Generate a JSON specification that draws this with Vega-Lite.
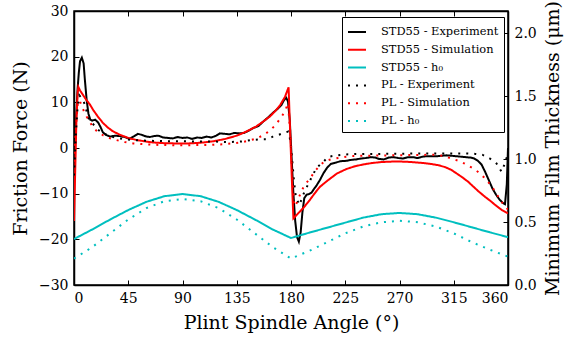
{
  "$schema": "https://vega.github.io/schema/vega-lite/v6.json",
  "width": 434,
  "height": 274,
  "autosize": "none",
  "padding": {"left": 74, "top": 11, "right": 57, "bottom": 55},
  "background": "white",
  "config": {
    "font": "DejaVu Serif",
    "view": {"stroke": "black", "strokeWidth": 1.5},
    "axis": {
      "domainColor": "black", "domainWidth": 1.5,
      "tickColor": "black", "tickSize": -5, "tickWidth": 1,
      "labelColor": "black", "labelFont": "DejaVu Serif", "labelFontSize": 14,
      "titleFont": "DejaVu Serif", "titleFontSize": 19, "titleFontWeight": "normal", "titleColor": "black",
      "grid": false, "labelPadding": 11
    },
    "legend": {
      "labelFont": "DejaVu Serif", "labelFontSize": 11.4, "labelColor": "black",
      "symbolType": "stroke", "symbolSize": 324, "symbolStrokeWidth": 2,
      "strokeColor": "black", "fillColor": "white", "padding": 5, "rowPadding": 1.8,
      "labelOffset": 14, "cornerRadius": 0
    }
  },
  "datasets": {
    "friction": [
      {"angle":0,"value":-8,"series":"STD55 - Experiment"},{"angle":1,"value":2,"series":"STD55 - Experiment"},{"angle":2,"value":8,"series":"STD55 - Experiment"},{"angle":3,"value":13,"series":"STD55 - Experiment"},{"angle":4,"value":16.5,"series":"STD55 - Experiment"},{"angle":5,"value":19,"series":"STD55 - Experiment"},{"angle":6.5,"value":19.8,"series":"STD55 - Experiment"},{"angle":8,"value":18.5,"series":"STD55 - Experiment"},{"angle":9,"value":15,"series":"STD55 - Experiment"},{"angle":10.5,"value":10.5,"series":"STD55 - Experiment"},{"angle":12,"value":7.5,"series":"STD55 - Experiment"},{"angle":13.5,"value":6.2,"series":"STD55 - Experiment"},{"angle":15,"value":6.0,"series":"STD55 - Experiment"},{"angle":17.5,"value":6.2,"series":"STD55 - Experiment"},{"angle":20,"value":5.6,"series":"STD55 - Experiment"},{"angle":22,"value":4.6,"series":"STD55 - Experiment"},{"angle":24,"value":3.4,"series":"STD55 - Experiment"},{"angle":27,"value":2.8,"series":"STD55 - Experiment"},{"angle":30,"value":2.5,"series":"STD55 - Experiment"},{"angle":34,"value":2.7,"series":"STD55 - Experiment"},{"angle":38,"value":2.6,"series":"STD55 - Experiment"},{"angle":42,"value":2.4,"series":"STD55 - Experiment"},{"angle":46,"value":2.0,"series":"STD55 - Experiment"},{"angle":50,"value":2.6,"series":"STD55 - Experiment"},{"angle":53,"value":3.1,"series":"STD55 - Experiment"},{"angle":56,"value":2.9,"series":"STD55 - Experiment"},{"angle":60,"value":2.5,"series":"STD55 - Experiment"},{"angle":63,"value":2.4,"series":"STD55 - Experiment"},{"angle":66,"value":2.6,"series":"STD55 - Experiment"},{"angle":70,"value":2.7,"series":"STD55 - Experiment"},{"angle":74,"value":2.3,"series":"STD55 - Experiment"},{"angle":78,"value":2.2,"series":"STD55 - Experiment"},{"angle":82,"value":2.1,"series":"STD55 - Experiment"},{"angle":86,"value":2.4,"series":"STD55 - Experiment"},{"angle":90,"value":2.2,"series":"STD55 - Experiment"},{"angle":94,"value":2.3,"series":"STD55 - Experiment"},{"angle":98,"value":2.0,"series":"STD55 - Experiment"},{"angle":102,"value":2.3,"series":"STD55 - Experiment"},{"angle":106,"value":2.2,"series":"STD55 - Experiment"},{"angle":110,"value":2.5,"series":"STD55 - Experiment"},{"angle":114,"value":2.3,"series":"STD55 - Experiment"},{"angle":118,"value":2.7,"series":"STD55 - Experiment"},{"angle":121,"value":3.2,"series":"STD55 - Experiment"},{"angle":125,"value":3.1,"series":"STD55 - Experiment"},{"angle":129,"value":3.0,"series":"STD55 - Experiment"},{"angle":133,"value":3.3,"series":"STD55 - Experiment"},{"angle":137,"value":3.2,"series":"STD55 - Experiment"},{"angle":141,"value":3.3,"series":"STD55 - Experiment"},{"angle":145,"value":3.8,"series":"STD55 - Experiment"},{"angle":149,"value":4.4,"series":"STD55 - Experiment"},{"angle":153,"value":4.8,"series":"STD55 - Experiment"},{"angle":157,"value":5.8,"series":"STD55 - Experiment"},{"angle":161,"value":6.7,"series":"STD55 - Experiment"},{"angle":165,"value":7.7,"series":"STD55 - Experiment"},{"angle":169,"value":8.6,"series":"STD55 - Experiment"},{"angle":172,"value":9.4,"series":"STD55 - Experiment"},{"angle":174,"value":10.4,"series":"STD55 - Experiment"},{"angle":176,"value":11.0,"series":"STD55 - Experiment"},{"angle":177.5,"value":10.2,"series":"STD55 - Experiment"},{"angle":179,"value":6,"series":"STD55 - Experiment"},{"angle":180.5,"value":-2,"series":"STD55 - Experiment"},{"angle":182,"value":-10,"series":"STD55 - Experiment"},{"angle":183.5,"value":-16,"series":"STD55 - Experiment"},{"angle":185,"value":-19.5,"series":"STD55 - Experiment"},{"angle":186.5,"value":-20.5,"series":"STD55 - Experiment"},{"angle":188,"value":-18.5,"series":"STD55 - Experiment"},{"angle":189.5,"value":-14,"series":"STD55 - Experiment"},{"angle":191,"value":-11,"series":"STD55 - Experiment"},{"angle":193,"value":-10.2,"series":"STD55 - Experiment"},{"angle":195,"value":-10.1,"series":"STD55 - Experiment"},{"angle":197,"value":-9.8,"series":"STD55 - Experiment"},{"angle":199,"value":-9.0,"series":"STD55 - Experiment"},{"angle":201,"value":-8.3,"series":"STD55 - Experiment"},{"angle":204,"value":-7,"series":"STD55 - Experiment"},{"angle":207,"value":-5.5,"series":"STD55 - Experiment"},{"angle":210,"value":-4.3,"series":"STD55 - Experiment"},{"angle":213,"value":-3.5,"series":"STD55 - Experiment"},{"angle":217,"value":-3.2,"series":"STD55 - Experiment"},{"angle":221,"value":-2.9,"series":"STD55 - Experiment"},{"angle":226,"value":-2.8,"series":"STD55 - Experiment"},{"angle":230,"value":-2.6,"series":"STD55 - Experiment"},{"angle":234,"value":-2.5,"series":"STD55 - Experiment"},{"angle":238,"value":-2.3,"series":"STD55 - Experiment"},{"angle":242,"value":-2.2,"series":"STD55 - Experiment"},{"angle":246,"value":-2.0,"series":"STD55 - Experiment"},{"angle":250,"value":-2.1,"series":"STD55 - Experiment"},{"angle":253,"value":-2.4,"series":"STD55 - Experiment"},{"angle":257,"value":-2.5,"series":"STD55 - Experiment"},{"angle":261,"value":-2.1,"series":"STD55 - Experiment"},{"angle":265,"value":-2.0,"series":"STD55 - Experiment"},{"angle":269,"value":-2.2,"series":"STD55 - Experiment"},{"angle":273,"value":-2.3,"series":"STD55 - Experiment"},{"angle":277,"value":-2.0,"series":"STD55 - Experiment"},{"angle":281,"value":-2.0,"series":"STD55 - Experiment"},{"angle":285,"value":-2.2,"series":"STD55 - Experiment"},{"angle":289,"value":-1.9,"series":"STD55 - Experiment"},{"angle":293,"value":-1.8,"series":"STD55 - Experiment"},{"angle":297,"value":-1.8,"series":"STD55 - Experiment"},{"angle":301,"value":-1.8,"series":"STD55 - Experiment"},{"angle":305,"value":-1.7,"series":"STD55 - Experiment"},{"angle":309,"value":-1.6,"series":"STD55 - Experiment"},{"angle":313,"value":-1.7,"series":"STD55 - Experiment"},{"angle":317,"value":-1.8,"series":"STD55 - Experiment"},{"angle":321,"value":-1.9,"series":"STD55 - Experiment"},{"angle":325,"value":-2.0,"series":"STD55 - Experiment"},{"angle":329,"value":-2.1,"series":"STD55 - Experiment"},{"angle":332,"value":-2.3,"series":"STD55 - Experiment"},{"angle":335,"value":-2.8,"series":"STD55 - Experiment"},{"angle":338,"value":-3.6,"series":"STD55 - Experiment"},{"angle":341,"value":-5.2,"series":"STD55 - Experiment"},{"angle":344,"value":-7,"series":"STD55 - Experiment"},{"angle":347,"value":-8.8,"series":"STD55 - Experiment"},{"angle":350,"value":-10.2,"series":"STD55 - Experiment"},{"angle":353,"value":-11.3,"series":"STD55 - Experiment"},{"angle":356,"value":-12.1,"series":"STD55 - Experiment"},{"angle":357.5,"value":-12.3,"series":"STD55 - Experiment"},{"angle":359,"value":-8,"series":"STD55 - Experiment"},{"angle":360,"value":0,"series":"STD55 - Experiment"},

      {"angle":0,"value":-16,"series":"STD55 - Simulation"},{"angle":1,"value":-5,"series":"STD55 - Simulation"},{"angle":2,"value":6,"series":"STD55 - Simulation"},{"angle":3,"value":12,"series":"STD55 - Simulation"},{"angle":3.6,"value":13.4,"series":"STD55 - Simulation"},{"angle":5,"value":12.6,"series":"STD55 - Simulation"},{"angle":7,"value":11.8,"series":"STD55 - Simulation"},{"angle":10,"value":10.6,"series":"STD55 - Simulation"},{"angle":13,"value":9.6,"series":"STD55 - Simulation"},{"angle":16,"value":8.3,"series":"STD55 - Simulation"},{"angle":20,"value":6.8,"series":"STD55 - Simulation"},{"angle":24,"value":5.5,"series":"STD55 - Simulation"},{"angle":28,"value":4.5,"series":"STD55 - Simulation"},{"angle":32,"value":3.7,"series":"STD55 - Simulation"},{"angle":38,"value":2.9,"series":"STD55 - Simulation"},{"angle":45,"value":2.2,"series":"STD55 - Simulation"},{"angle":52,"value":1.75,"series":"STD55 - Simulation"},{"angle":60,"value":1.4,"series":"STD55 - Simulation"},{"angle":66,"value":1.2,"series":"STD55 - Simulation"},{"angle":75,"value":1.05,"series":"STD55 - Simulation"},{"angle":85,"value":1.0,"series":"STD55 - Simulation"},{"angle":95,"value":1.0,"series":"STD55 - Simulation"},{"angle":105,"value":1.15,"series":"STD55 - Simulation"},{"angle":115,"value":1.45,"series":"STD55 - Simulation"},{"angle":125,"value":1.95,"series":"STD55 - Simulation"},{"angle":135,"value":2.7,"series":"STD55 - Simulation"},{"angle":143,"value":3.6,"series":"STD55 - Simulation"},{"angle":151,"value":4.7,"series":"STD55 - Simulation"},{"angle":157,"value":5.8,"series":"STD55 - Simulation"},{"angle":162.5,"value":6.9,"series":"STD55 - Simulation"},{"angle":167,"value":8.1,"series":"STD55 - Simulation"},{"angle":171,"value":9.4,"series":"STD55 - Simulation"},{"angle":175,"value":11.2,"series":"STD55 - Simulation"},{"angle":178,"value":13.3,"series":"STD55 - Simulation"},{"angle":179.5,"value":2,"series":"STD55 - Simulation"},{"angle":181,"value":-9,"series":"STD55 - Simulation"},{"angle":182,"value":-15.4,"series":"STD55 - Simulation"},{"angle":186,"value":-14.3,"series":"STD55 - Simulation"},{"angle":190,"value":-13.2,"series":"STD55 - Simulation"},{"angle":195,"value":-11.6,"series":"STD55 - Simulation"},{"angle":200,"value":-9.8,"series":"STD55 - Simulation"},{"angle":204,"value":-8.5,"series":"STD55 - Simulation"},{"angle":210,"value":-7.2,"series":"STD55 - Simulation"},{"angle":218,"value":-5.6,"series":"STD55 - Simulation"},{"angle":226,"value":-4.6,"series":"STD55 - Simulation"},{"angle":233,"value":-4.0,"series":"STD55 - Simulation"},{"angle":240,"value":-3.6,"series":"STD55 - Simulation"},{"angle":247,"value":-3.3,"series":"STD55 - Simulation"},{"angle":254,"value":-3.1,"series":"STD55 - Simulation"},{"angle":261,"value":-3.0,"series":"STD55 - Simulation"},{"angle":268,"value":-2.95,"series":"STD55 - Simulation"},{"angle":275,"value":-3.0,"series":"STD55 - Simulation"},{"angle":281,"value":-3.1,"series":"STD55 - Simulation"},{"angle":288,"value":-3.25,"series":"STD55 - Simulation"},{"angle":295,"value":-3.45,"series":"STD55 - Simulation"},{"angle":302,"value":-3.75,"series":"STD55 - Simulation"},{"angle":308,"value":-4.2,"series":"STD55 - Simulation"},{"angle":313,"value":-4.8,"series":"STD55 - Simulation"},{"angle":317,"value":-5.5,"series":"STD55 - Simulation"},{"angle":322,"value":-6.4,"series":"STD55 - Simulation"},{"angle":327,"value":-7.4,"series":"STD55 - Simulation"},{"angle":331,"value":-8.4,"series":"STD55 - Simulation"},{"angle":336,"value":-9.6,"series":"STD55 - Simulation"},{"angle":341,"value":-10.7,"series":"STD55 - Simulation"},{"angle":345,"value":-11.5,"series":"STD55 - Simulation"},{"angle":350,"value":-12.6,"series":"STD55 - Simulation"},{"angle":355,"value":-13.6,"series":"STD55 - Simulation"},{"angle":360,"value":-14.3,"series":"STD55 - Simulation"},

      {"angle":0,"value":-6,"series":"PL - Experiment"},{"angle":1.5,"value":3,"series":"PL - Experiment"},{"angle":3,"value":9,"series":"PL - Experiment"},{"angle":4.5,"value":11.5,"series":"PL - Experiment"},{"angle":6,"value":11,"series":"PL - Experiment"},{"angle":7.5,"value":10.5,"series":"PL - Experiment"},{"angle":9,"value":9.5,"series":"PL - Experiment"},{"angle":12,"value":6.5,"series":"PL - Experiment"},{"angle":16,"value":5.2,"series":"PL - Experiment"},{"angle":20,"value":4.0,"series":"PL - Experiment"},{"angle":24,"value":3.2,"series":"PL - Experiment"},{"angle":31,"value":2.5,"series":"PL - Experiment"},{"angle":40,"value":2.0,"series":"PL - Experiment"},{"angle":49,"value":1.75,"series":"PL - Experiment"},{"angle":60,"value":1.6,"series":"PL - Experiment"},{"angle":75,"value":1.5,"series":"PL - Experiment"},{"angle":90,"value":1.5,"series":"PL - Experiment"},{"angle":105,"value":1.4,"series":"PL - Experiment"},{"angle":118,"value":1.4,"series":"PL - Experiment"},{"angle":128,"value":1.3,"series":"PL - Experiment"},{"angle":138,"value":1.4,"series":"PL - Experiment"},{"angle":148,"value":1.75,"series":"PL - Experiment"},{"angle":155,"value":1.9,"series":"PL - Experiment"},{"angle":160,"value":1.9,"series":"PL - Experiment"},{"angle":165,"value":2.5,"series":"PL - Experiment"},{"angle":170,"value":2.9,"series":"PL - Experiment"},{"angle":173,"value":3.2,"series":"PL - Experiment"},{"angle":177.7,"value":3.6,"series":"PL - Experiment"},{"angle":179.7,"value":1.4,"series":"PL - Experiment"},{"angle":181,"value":-2.6,"series":"PL - Experiment"},{"angle":182.4,"value":-7,"series":"PL - Experiment"},{"angle":184,"value":-10.7,"series":"PL - Experiment"},{"angle":187,"value":-12.5,"series":"PL - Experiment"},{"angle":190,"value":-10.3,"series":"PL - Experiment"},{"angle":193,"value":-8.6,"series":"PL - Experiment"},{"angle":196,"value":-7,"series":"PL - Experiment"},{"angle":201,"value":-4.4,"series":"PL - Experiment"},{"angle":207,"value":-3,"series":"PL - Experiment"},{"angle":211,"value":-1.9,"series":"PL - Experiment"},{"angle":219,"value":-1.6,"series":"PL - Experiment"},{"angle":226,"value":-1.4,"series":"PL - Experiment"},{"angle":235,"value":-1.3,"series":"PL - Experiment"},{"angle":245,"value":-1.3,"series":"PL - Experiment"},{"angle":255,"value":-1.3,"series":"PL - Experiment"},{"angle":265,"value":-1.25,"series":"PL - Experiment"},{"angle":275,"value":-1.25,"series":"PL - Experiment"},{"angle":285,"value":-1.2,"series":"PL - Experiment"},{"angle":295,"value":-1.2,"series":"PL - Experiment"},{"angle":306,"value":-1.2,"series":"PL - Experiment"},{"angle":318,"value":-1.2,"series":"PL - Experiment"},{"angle":326,"value":-1.2,"series":"PL - Experiment"},{"angle":333,"value":-1.3,"series":"PL - Experiment"},{"angle":339,"value":-1.5,"series":"PL - Experiment"},{"angle":345,"value":-2.3,"series":"PL - Experiment"},{"angle":350.5,"value":-3.4,"series":"PL - Experiment"},{"angle":354.6,"value":-5.2,"series":"PL - Experiment"},{"angle":358,"value":-3,"series":"PL - Experiment"},{"angle":360,"value":-1,"series":"PL - Experiment"},

      {"angle":0,"value":-3,"series":"PL - Simulation"},{"angle":1.5,"value":4,"series":"PL - Simulation"},{"angle":3,"value":9.5,"series":"PL - Simulation"},{"angle":4.5,"value":10.5,"series":"PL - Simulation"},{"angle":6,"value":9.5,"series":"PL - Simulation"},{"angle":8,"value":8.2,"series":"PL - Simulation"},{"angle":10.5,"value":6.9,"series":"PL - Simulation"},{"angle":14.7,"value":5.0,"series":"PL - Simulation"},{"angle":18.8,"value":3.7,"series":"PL - Simulation"},{"angle":24,"value":2.8,"series":"PL - Simulation"},{"angle":30,"value":2.1,"series":"PL - Simulation"},{"angle":35,"value":1.75,"series":"PL - Simulation"},{"angle":42,"value":1.3,"series":"PL - Simulation"},{"angle":49,"value":1.0,"series":"PL - Simulation"},{"angle":60,"value":0.8,"series":"PL - Simulation"},{"angle":71,"value":0.66,"series":"PL - Simulation"},{"angle":90,"value":0.6,"series":"PL - Simulation"},{"angle":113,"value":0.66,"series":"PL - Simulation"},{"angle":125,"value":0.85,"series":"PL - Simulation"},{"angle":138,"value":1.2,"series":"PL - Simulation"},{"angle":145,"value":1.6,"series":"PL - Simulation"},{"angle":151.5,"value":2.1,"series":"PL - Simulation"},{"angle":157,"value":2.8,"series":"PL - Simulation"},{"angle":162.5,"value":3.8,"series":"PL - Simulation"},{"angle":167,"value":5.0,"series":"PL - Simulation"},{"angle":171,"value":6.4,"series":"PL - Simulation"},{"angle":175,"value":8.0,"series":"PL - Simulation"},{"angle":177.5,"value":9.8,"series":"PL - Simulation"},{"angle":179.5,"value":3,"series":"PL - Simulation"},{"angle":181,"value":-6,"series":"PL - Simulation"},{"angle":182.5,"value":-12,"series":"PL - Simulation"},{"angle":183.5,"value":-12.8,"series":"PL - Simulation"},{"angle":186,"value":-11.2,"series":"PL - Simulation"},{"angle":189,"value":-9.2,"series":"PL - Simulation"},{"angle":192,"value":-7.9,"series":"PL - Simulation"},{"angle":196,"value":-6.6,"series":"PL - Simulation"},{"angle":200,"value":-5,"series":"PL - Simulation"},{"angle":204,"value":-3.8,"series":"PL - Simulation"},{"angle":208,"value":-2.9,"series":"PL - Simulation"},{"angle":213,"value":-2.5,"series":"PL - Simulation"},{"angle":219,"value":-2.2,"series":"PL - Simulation"},{"angle":226,"value":-1.9,"series":"PL - Simulation"},{"angle":232,"value":-1.75,"series":"PL - Simulation"},{"angle":240,"value":-1.7,"series":"PL - Simulation"},{"angle":252,"value":-1.65,"series":"PL - Simulation"},{"angle":265,"value":-1.6,"series":"PL - Simulation"},{"angle":280,"value":-1.55,"series":"PL - Simulation"},{"angle":292,"value":-1.5,"series":"PL - Simulation"},{"angle":300,"value":-1.5,"series":"PL - Simulation"},{"angle":306,"value":-1.7,"series":"PL - Simulation"},{"angle":313,"value":-2.3,"series":"PL - Simulation"},{"angle":319,"value":-2.8,"series":"PL - Simulation"},{"angle":324,"value":-3.4,"series":"PL - Simulation"},{"angle":330,"value":-4.3,"series":"PL - Simulation"},{"angle":335,"value":-5.2,"series":"PL - Simulation"},{"angle":340,"value":-6.4,"series":"PL - Simulation"},{"angle":344,"value":-7.6,"series":"PL - Simulation"},{"angle":348,"value":-9.0,"series":"PL - Simulation"},{"angle":352,"value":-10.7,"series":"PL - Simulation"},{"angle":356,"value":-12.3,"series":"PL - Simulation"},{"angle":360,"value":-13.5,"series":"PL - Simulation"}
    ],
    "film": [
      {"angle":0,"value":0.365,"series":"STD55 - h₀"},{"angle":15,"value":0.44,"series":"STD55 - h₀"},{"angle":30,"value":0.52,"series":"STD55 - h₀"},{"angle":45,"value":0.595,"series":"STD55 - h₀"},{"angle":60,"value":0.66,"series":"STD55 - h₀"},{"angle":75,"value":0.705,"series":"STD55 - h₀"},{"angle":90,"value":0.722,"series":"STD55 - h₀"},{"angle":105,"value":0.705,"series":"STD55 - h₀"},{"angle":120,"value":0.66,"series":"STD55 - h₀"},{"angle":135,"value":0.595,"series":"STD55 - h₀"},{"angle":150,"value":0.52,"series":"STD55 - h₀"},{"angle":165,"value":0.44,"series":"STD55 - h₀"},{"angle":180,"value":0.373,"series":"STD55 - h₀"},{"angle":195,"value":0.415,"series":"STD55 - h₀"},{"angle":210,"value":0.455,"series":"STD55 - h₀"},{"angle":225,"value":0.495,"series":"STD55 - h₀"},{"angle":240,"value":0.535,"series":"STD55 - h₀"},{"angle":255,"value":0.562,"series":"STD55 - h₀"},{"angle":270,"value":0.572,"series":"STD55 - h₀"},{"angle":285,"value":0.562,"series":"STD55 - h₀"},{"angle":300,"value":0.535,"series":"STD55 - h₀"},{"angle":315,"value":0.498,"series":"STD55 - h₀"},{"angle":330,"value":0.458,"series":"STD55 - h₀"},{"angle":345,"value":0.418,"series":"STD55 - h₀"},{"angle":360,"value":0.38,"series":"STD55 - h₀"},
      {"angle":0,"value":0.21,"series":"PL - h₀"},{"angle":15,"value":0.30,"series":"PL - h₀"},{"angle":30,"value":0.41,"series":"PL - h₀"},{"angle":45,"value":0.52,"series":"PL - h₀"},{"angle":60,"value":0.61,"series":"PL - h₀"},{"angle":75,"value":0.665,"series":"PL - h₀"},{"angle":90,"value":0.683,"series":"PL - h₀"},{"angle":105,"value":0.665,"series":"PL - h₀"},{"angle":120,"value":0.61,"series":"PL - h₀"},{"angle":135,"value":0.52,"series":"PL - h₀"},{"angle":150,"value":0.41,"series":"PL - h₀"},{"angle":165,"value":0.30,"series":"PL - h₀"},{"angle":180,"value":0.21,"series":"PL - h₀"},{"angle":195,"value":0.27,"series":"PL - h₀"},{"angle":210,"value":0.34,"series":"PL - h₀"},{"angle":225,"value":0.41,"series":"PL - h₀"},{"angle":240,"value":0.465,"series":"PL - h₀"},{"angle":255,"value":0.498,"series":"PL - h₀"},{"angle":270,"value":0.51,"series":"PL - h₀"},{"angle":285,"value":0.498,"series":"PL - h₀"},{"angle":300,"value":0.465,"series":"PL - h₀"},{"angle":315,"value":0.41,"series":"PL - h₀"},{"angle":330,"value":0.34,"series":"PL - h₀"},{"angle":345,"value":0.28,"series":"PL - h₀"},{"angle":360,"value":0.225,"series":"PL - h₀"}
    ]
  },
  "layer": [
    {
      "data": {"name": "friction"},
      "mark": {"type": "line", "strokeWidth": 2, "clip": true},
      "encoding": {
        "x": {"field": "angle", "type": "quantitative",
              "scale": {"domain": [0, 360], "nice": false},
              "axis": {"values": [0,45,90,135,180,225,270,315,360], "title": "Plint Spindle Angle (°)", "orient": "bottom", "titlePadding": 8}},
        "y": {"field": "value", "type": "quantitative",
              "scale": {"domain": [-30, 30], "nice": false},
              "axis": {"values": [-30,-20,-10,0,10,20,30], "title": "Friction Force (N)", "orient": "left", "titlePadding": 8}},
        "color": {"field": "series", "type": "nominal",
                  "scale": {"domain": ["STD55 - Experiment","STD55 - Simulation","STD55 - h₀","PL - Experiment","PL - Simulation","PL - h₀"],
                            "range": ["#000000","#ff0000","#00bfbf","#000000","#ff0000","#00bfbf"]},
                  "legend": {"title": null, "orient": "none", "legendX": 268, "legendY": 6}},
        "strokeDash": {"field": "series", "type": "nominal",
                  "scale": {"domain": ["STD55 - Experiment","STD55 - Simulation","STD55 - h₀","PL - Experiment","PL - Simulation","PL - h₀"],
                            "range": [[1,0],[1,0],[1,0],[2,6],[2,6],[2,6]]},
                  "legend": {"title": null, "orient": "none", "legendX": 268, "legendY": 6}}
      }
    },
    {
      "data": {"name": "film"},
      "mark": {"type": "line", "strokeWidth": 2, "clip": true},
      "encoding": {
        "x": {"field": "angle", "type": "quantitative",
              "scale": {"domain": [0, 360], "nice": false},
              "axis": {"values": [0,45,90,135,180,225,270,315,360], "title": null, "labels": false, "orient": "top"}},
        "y": {"field": "value", "type": "quantitative",
              "scale": {"domain": [0, 2.175], "nice": false},
              "axis": {"values": [0,0.5,1,1.5,2], "format": ".1f", "title": "Minimum Film Thickness (μm)", "orient": "right", "titleAngle": 270, "titlePadding": 26}},
        "color": {"field": "series", "type": "nominal"},
        "strokeDash": {"field": "series", "type": "nominal"}
      }
    }
  ],
  "resolve": {"scale": {"y": "independent"}, "axis": {"x": "independent"}}
}
